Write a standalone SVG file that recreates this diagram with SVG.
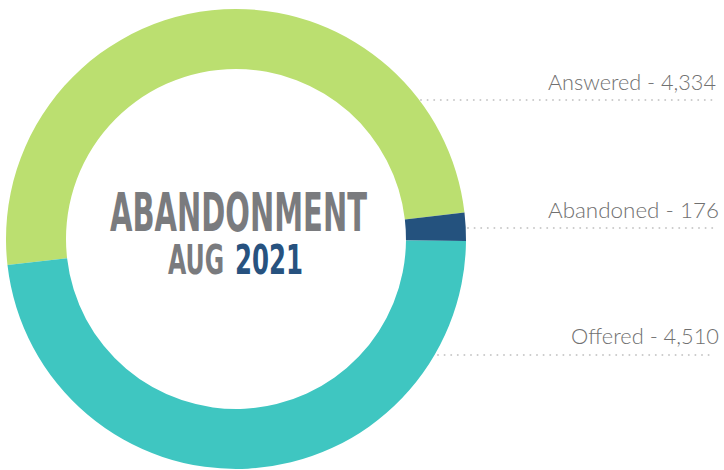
<svg xmlns="http://www.w3.org/2000/svg" width="724" height="470" viewBox="0 0 724 470">
<style>
.lbl{font-family:Lato,"Open Sans","Liberation Sans",sans-serif;font-weight:300;font-size:22px;fill:#707070;text-anchor:end}
.lead{stroke:#cacaca;stroke-width:2;stroke-linecap:round;stroke-dasharray:0 6.6;fill:none}
.ttl{font-family:"Liberation Sans Narrow","DejaVu Sans Condensed","Liberation Sans",sans-serif;font-weight:bold;fill:#7a7b7e}
</style>
<rect width="724" height="470" fill="#ffffff"/>
<g id="seg-answered">
<path d="M7.48,265.04 A230,230 0 0 1 236,9 A230,230 0 0 1 464.48,212.56 L404.87,219.46 A170,170 0 0 0 236,69 A170,170 0 0 0 67.09,258.24 Z" fill="#bbdf70"/>
</g>
<g id="seg-abandoned">
<path d="M464.48,212.56 A230,230 0 0 1 465.99,241.01 L405.99,240.48 A170,170 0 0 0 404.87,219.46 Z" fill="#24527e"/>
</g>
<g id="seg-offered">
<path d="M465.99,241.01 A230,230 0 0 1 7.48,265.04 L67.09,258.24 A170,170 0 0 0 405.99,240.48 Z" fill="#3fc6c1"/>
</g>
<g id="title">
<text class="ttl" x="110" y="231" font-size="54" textLength="257" lengthAdjust="spacingAndGlyphs">ABANDONMENT</text>
<text class="ttl" x="168" y="274" font-size="40" textLength="56" lengthAdjust="spacingAndGlyphs">AUG</text>
<text class="ttl" x="235" y="274" font-size="40" textLength="68" lengthAdjust="spacingAndGlyphs" style="fill:#27527f">2021</text>
</g>
<g id="connectors">
<line class="lead" x1="421" y1="100" x2="713" y2="100"/>
<line class="lead" x1="468" y1="228" x2="713" y2="228"/>
<line class="lead" x1="438" y1="355" x2="713" y2="355"/>
</g>
<g id="label-answered"><text class="lbl" x="716" y="90" textLength="168" lengthAdjust="spacingAndGlyphs">Answered - 4,334</text></g>
<g id="label-abandoned"><text class="lbl" x="719" y="218" textLength="171" lengthAdjust="spacingAndGlyphs">Abandoned - 176</text></g>
<g id="label-offered"><text class="lbl" x="719" y="344" textLength="148" lengthAdjust="spacingAndGlyphs">Offered - 4,510</text></g>
</svg>
